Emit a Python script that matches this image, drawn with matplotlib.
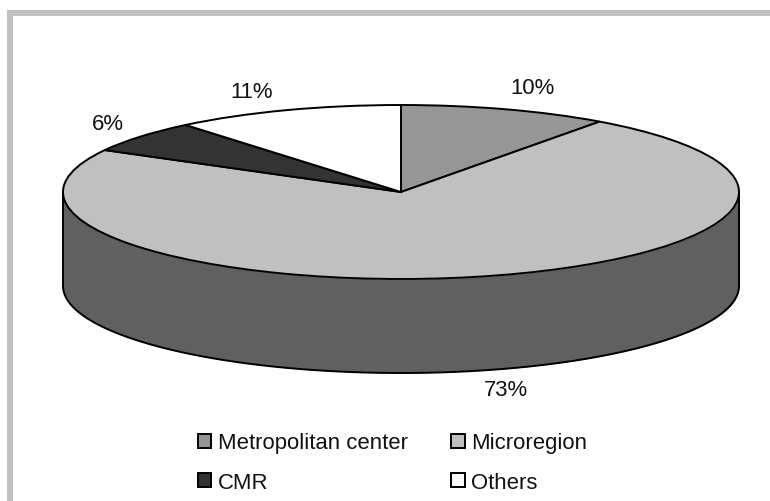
import numpy as np
import matplotlib
matplotlib.use("Agg")
import matplotlib.pyplot as plt
from matplotlib.patches import Rectangle

plt.rcParams['font.family'] = ['Liberation Sans', 'DejaVu Sans']

# Pie data
categories = ["Metropolitan center", "Microregion", "CMR", "Others"]
shares = [10, 73, 6, 11]
share_labels = ["10%", "73%", "6%", "11%"]

# Styles
top_colors = ["#969696", "#c0c0c0", "#333333", "#ffffff"]
side_colors = ["#4b4b4b", "#606060", "#1a1a1a", "#bfbfbf"]
FRAME_COLOR = "#c0c0c0"
FONT_SIZE = 15.9
EDGE_LW = 1.4

W, H = 770, 502
CX, CY = 401, 193       # centre of the pie top, px
RX, RY = 338, 87        # ellipse radii, px
DEPTH = 94              # height of the wall, px

fig = plt.figure(figsize=(W / 100, H / 100), dpi=100)
ax = fig.add_axes([0, 0, 1, 1])

# top of the pie: a unit circle squashed by the axis limits
wedges, _ = ax.pie(shares, startangle=90, counterclock=False, radius=1, colors=top_colors,
                   wedgeprops=dict(edgecolor="black", linewidth=EDGE_LW, zorder=3))
ax.set_aspect("auto")
ax.set_xlim(-CX / RX, (W - CX) / RX)
ax.set_ylim((CY - H) / RY, CY / RY)
ax.axis("off")

# outer wall, only the part of each slice that faces the front
start = 90.0
for share, col in zip(shares, side_colors):
    end = start - share * 3.6
    t = np.radians(np.linspace(start, end, 300))
    t = t[np.sin(t) <= 0]
    start = end
    if len(t) < 2:
        continue
    x = np.cos(t)
    y = np.sin(t)
    ax.fill_between(x, y, y - DEPTH / RY, color=col, zorder=1, linewidth=0)
    ax.plot(x, y - DEPTH / RY, color="black", lw=EDGE_LW, zorder=2)
    ax.plot([x[0], x[0]], [y[0], y[0] - DEPTH / RY], color="black", lw=EDGE_LW, zorder=2)
    ax.plot([x[-1], x[-1]], [y[-1], y[-1] - DEPTH / RY], color="black", lw=EDGE_LW, zorder=2)

# percentage labels
label_px = [(532, 89), (506, 391), (108, 125), (252, 93)]
for txt, (px, py) in zip(share_labels, label_px):
    ax.text((px - CX) / RX, (CY - py) / RY, txt, fontsize=FONT_SIZE, ha="center",
            va="center", color="#111111", zorder=5)

# grey frame along the left and top edges
for rect in [(7, 11, 6, H - 11), (7, 11, W - 7, 6)]:
    fig.add_artist(Rectangle((rect[0] / W, 1 - (rect[1] + rect[3]) / H), rect[2] / W, rect[3] / H,
                             transform=fig.transFigure, color=FRAME_COLOR, linewidth=0))

# legend fills by column, so reorder to read across the rows
handles = [Rectangle((0, 0), 1, 1, facecolor=c, edgecolor="black", linewidth=EDGE_LW) for c in top_colors]
order = [0, 2, 1, 3]
fig.legend([handles[i] for i in order], [categories[i] for i in order], ncol=2, frameon=False,
           fontsize=FONT_SIZE, labelcolor="#111111", loc="lower left",
           bbox_to_anchor=(198 / W, 1 - 494 / H), handlelength=0.6, handleheight=0.6,
           handletextpad=0.3, columnspacing=1.97, labelspacing=0.84, borderaxespad=0, borderpad=0)

fig.savefig("out.png", dpi=100)
